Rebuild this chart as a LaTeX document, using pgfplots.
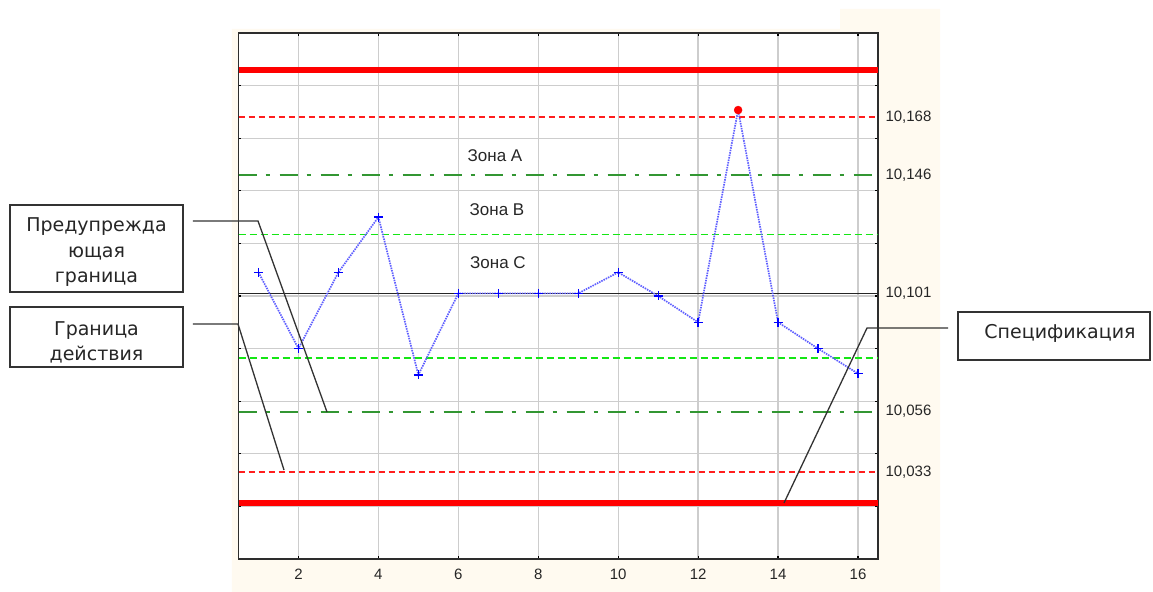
\documentclass[border=0pt]{standalone}
\usepackage{pgfplots}
\pgfplotsset{compat=1.18}
\usepackage{fontspec}
\setmainfont{Liberation Sans}
\newfontfamily\callfont{DejaVu Sans}
\definecolor{cream}{RGB}{255,250,240}
\definecolor{gridc}{RGB}{205,205,205}
\definecolor{specred}{RGB}{255,0,0}
\definecolor{ctrlred}{RGB}{255,30,30}
\definecolor{warngreen}{RGB}{50,150,50}
\definecolor{limegreen}{RGB}{20,230,20}
\definecolor{dataline}{RGB}{95,95,255}
\definecolor{axisc}{RGB}{45,45,45}
\begin{document}
\begin{tikzpicture}
\path[use as bounding box] (-238.5bp,-33bp) rectangle (914.5bp,559bp);
\fill[cream] (-6.5bp,-33bp) -- (-6.5bp,530bp) -- (601.5bp,530bp) -- (601.5bp,550bp) -- (701.5bp,550bp) -- (701.5bp,-33bp) -- cycle;
\begin{axis}[
  at={(0bp,0bp)}, anchor=south west,
  scale only axis, width=639.5bp, height=526bp,
  xmin=0.5, xmax=16.5, ymin=10.0, ymax=10.2,
  axis background/.style={fill=white},
  axis line style={axisc, line width=1.5bp},
  xtick={2,4,6,8,10,12,14,16},
  ytick={10.00,10.02,10.04,10.06,10.08,10.10,10.12,10.14,10.16,10.18,10.20},
  yticklabels={},
  tick align=inside, major tick length=3bp,
  every tick/.style={black, line width=1.2bp},
  xtick pos=both, ytick pos=both,
  yticklabel pos=right,
  xmajorgrids, ymajorgrids,
  major grid style={gridc, line width=1.3bp},
  extra y ticks={10.168,10.146,10.101,10.056,10.033},
  extra y tick labels={{10,168},{10,146},{10,101},{10,056},{10,033}},
  extra y tick style={major tick length=0pt, ymajorgrids=false, yminorgrids=false},
  /pgf/number format/assume math mode=true,
  tick label style={font=\fontsize{15bp}{17bp}\selectfont, text=black!85},
  xticklabel style={yshift=-7bp},
  yticklabel style={xshift=4bp},
  clip=false,
  unbounded coords=jump,
]
\addplot[specred, line width=6.5bp] coordinates {(0.5,10.186) (16.5,10.186)};
\addplot[specred, line width=6.5bp] coordinates {(0.5,10.0213) (16.5,10.0213)};
\addplot[draw=warngreen, line width=1.7bp, dash pattern=on 18bp off 9bp on 4bp off 10bp] coordinates {(0.5,10.146) (16.5,10.146)};
\addplot[draw=warngreen, line width=1.7bp, dash pattern=on 18bp off 9bp on 4bp off 10bp] coordinates {(0.5,10.056) (16.5,10.056)};
\addplot[draw=limegreen, line width=1.7bp, dash pattern=on 7bp off 4bp] coordinates {(0.5,10.1234) (16.5,10.1234)};
\addplot[draw=limegreen, line width=1.7bp, dash pattern=on 7bp off 4bp] coordinates {(0.5,10.0764) (16.5,10.0764)};
\addplot[black!85, line width=1.5bp] coordinates {(0.5,10.101) (16.5,10.101)};
\addplot[draw=ctrlred, line width=1.6bp, dash pattern=on 6bp off 4bp] coordinates {(0.5,10.168) (16.5,10.168) (16.5,nan) (0.5,10.033) (16.5,10.033)};
\addplot[dataline, line width=1.7bp, dash pattern=on 1.5bp off 1bp, mark=none] coordinates {
(1,10.109) (2,10.080) (3,10.109) (4,10.130) (5,10.070) (6,10.101) (7,10.101) (8,10.101)
(9,10.101) (10,10.109) (11,10.100) (12,10.090) (13,10.1707) (14,10.090) (15,10.080) (16,10.0705)};
\addplot[only marks, mark=+, mark size=4.5bp, blue, mark options={line width=1.3bp}] coordinates {
(1,10.109) (2,10.080) (3,10.109) (4,10.130) (5,10.070) (6,10.101) (7,10.101) (8,10.101)
(9,10.101) (10,10.109) (11,10.100) (12,10.090) (14,10.090) (15,10.080) (16,10.0705)};
\addplot[only marks, mark=*, mark size=4bp, red, mark options={draw=red, fill=red}] coordinates {(13,10.1707)};
\end{axis}
% zone labels
\node[font=\fontsize{17bp}{20bp}\selectfont, text=black!85] at (256.5bp,403bp) {Зона A};
\node[font=\fontsize{17bp}{20bp}\selectfont, text=black!85] at (258.5bp,349bp) {Зона B};
\node[font=\fontsize{17bp}{20bp}\selectfont, text=black!85] at (259.5bp,296bp) {Зона C};
% leader lines
\draw[black!80, line width=1.3bp] (-45.5bp,338bp) -- (19.5bp,338bp) -- (88.5bp,147bp);
\draw[black!80, line width=1.3bp] (-45.5bp,235bp) -- (-0.5bp,235bp) -- (45.5bp,89bp);
\draw[black!80, line width=1.3bp] (709.5bp,231bp) -- (628.5bp,231bp) -- (545.5bp,56bp);
% boxes
\draw[black!80, line width=1.5bp, fill=white] (-228.5bp,267bp) rectangle (-55.5bp,354bp);
\node[font=\callfont\fontsize{19bp}{25.5bp}\selectfont, align=center, text=black!85] at (-142bp,306.5bp) {Предупрежда\\ющая\\граница};
\draw[black!80, line width=1.5bp, fill=white] (-228.5bp,192bp) rectangle (-55.5bp,252bp);
\node[font=\callfont\fontsize{19bp}{25.5bp}\selectfont, align=center, text=black!85] at (-142bp,216.5bp) {Граница\\действия};
\draw[black!80, line width=1.5bp, fill=white] (719.5bp,199bp) rectangle (911.5bp,247bp);
\node[font=\callfont\fontsize{19bp}{25.5bp}\selectfont, text=black!85] at (821.5bp,226bp) {Спецификация};
\end{tikzpicture}
\end{document}
